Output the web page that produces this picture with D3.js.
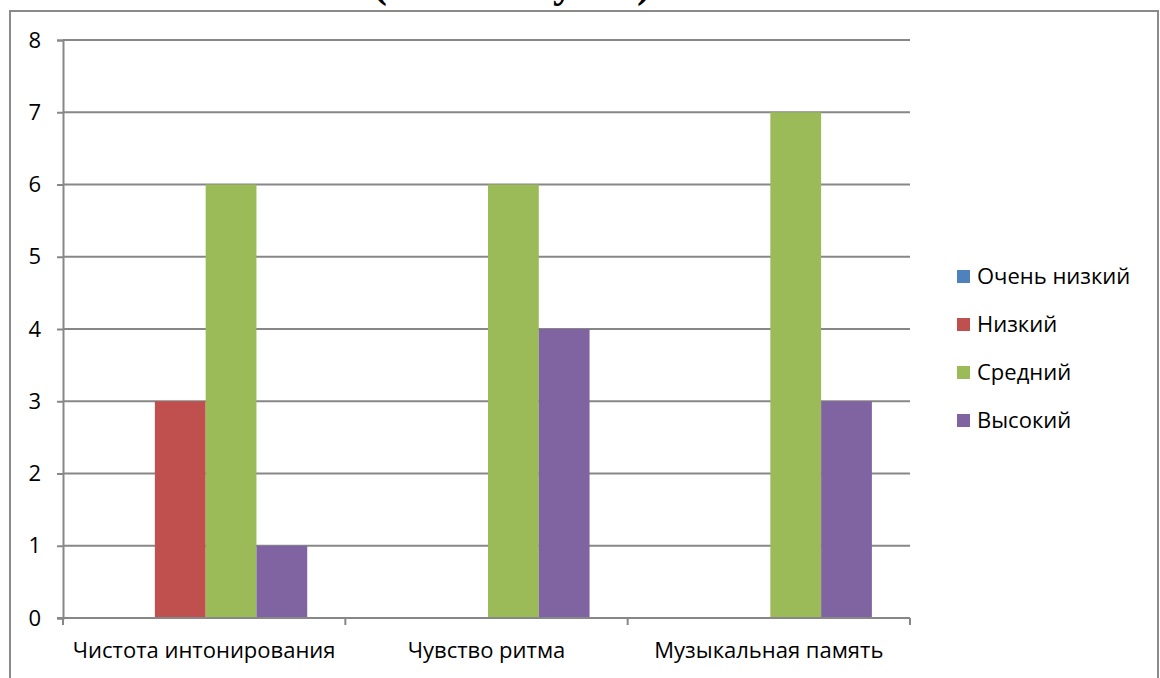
<!DOCTYPE html>
<html>
<head>
<meta charset="utf-8">
<script src="https://cdn.jsdelivr.net/npm/d3@7"></script>
<style>
  body { margin: 0; background: #fff; }
  svg { display: block; }
</style>
</head>
<body>
<svg id="chart" width="1160" height="678"></svg>
<script>
const categories = ['Чистота интонирования', 'Чувство ритма', 'Музыкальная память'];
const seriesNames = ['Очень низкий', 'Низкий', 'Средний', 'Высокий'];
const seriesColors = ['#4F81BD', '#C0504D', '#9BBB59', '#8064A2'];
const veryLow = [0, 0, 0];
const low = [3, 0, 0];
const medium = [6, 6, 7];
const high = [1, 4, 3];
const yTicks = [0, 1, 2, 3, 4, 5, 6, 7, 8];
const titleText = '(осенний учёт)';

const seriesValues = [veryLow, low, medium, high];

const svg = d3.select('#chart');
const font = '"Open Sans", "Noto Sans", sans-serif';
const fontSize = '22px';

// frame around the chart area (cut off at the top)
svg.append('path')
  .attr('d', 'M10,678 V11 H1158 V678')
  .attr('fill', 'none')
  .attr('stroke', '#8a8a8a')
  .attr('stroke-width', 2);

// title, mostly above the visible area like in the screenshot
svg.append('text')
  .attr('x', 512)
  .attr('y', -3)
  .attr('text-anchor', 'middle')
  .style('font-family', '"Liberation Serif", "DejaVu Serif", serif')
  .style('font-weight', 'bold')
  .style('font-size', '42px')
  .text(titleText);

const margin = { left: 63, top: 40, right: 910, bottom: 618 };

const x0 = d3.scaleBand()
  .domain(categories)
  .range([margin.left, margin.right])
  .paddingInner(0)
  .paddingOuter(0);

const x1 = d3.scaleBand()
  .domain(seriesNames)
  .range([0, x0.bandwidth()])
  .paddingInner(0)
  .paddingOuter(0.78);

const y = d3.scaleLinear().domain([0, 8]).range([margin.bottom, margin.top]);

// gridlines
svg.append('g')
  .selectAll('line')
  .data(yTicks.filter(d => d > 0))
  .join('line')
  .attr('x1', margin.left)
  .attr('x2', margin.right)
  .attr('y1', d => y(d))
  .attr('y2', d => y(d))
  .attr('stroke', '#878787')
  .attr('stroke-width', 2);

// bars
const groups = svg.append('g')
  .selectAll('g')
  .data(categories)
  .join('g')
  .attr('transform', d => `translate(${x0(d) + 1.5},0)`);

groups.selectAll('rect')
  .data((c, ci) => seriesNames.map((s, si) => ({ s, v: seriesValues[si][ci], color: seriesColors[si] })))
  .join('rect')
  .attr('x', d => x1(d.s))
  .attr('width', x1.bandwidth())
  .attr('y', d => y(d.v))
  .attr('height', d => y(0) - y(d.v))
  .attr('fill', d => d.color);

// y axis
const yAxis = d3.axisLeft(y).tickValues(yTicks).tickSize(6).tickPadding(16);
const gy = svg.append('g')
  .attr('transform', `translate(${margin.left},0)`)
  .call(yAxis);
gy.select('.domain').attr('stroke', '#878787').attr('stroke-width', 2);
gy.selectAll('.tick line').attr('stroke', '#878787').attr('stroke-width', 2);
gy.selectAll('.tick text')
  .style('font-family', font)
  .style('font-size', fontSize)
  .attr('fill', '#000');

// x axis
const gx = svg.append('g')
  .attr('transform', `translate(0,${margin.bottom})`);
gx.append('line')
  .attr('x1', margin.left - 6)
  .attr('x2', margin.right)
  .attr('stroke', '#878787')
  .attr('stroke-width', 2);
gx.selectAll('.cat-tick')
  .data([...categories.map(c => x0(c)), margin.right])
  .join('line')
  .attr('class', 'cat-tick')
  .attr('x1', d => d)
  .attr('x2', d => d)
  .attr('y1', 0)
  .attr('y2', 7)
  .attr('stroke', '#878787')
  .attr('stroke-width', 2);
gx.selectAll('.cat-label')
  .data(categories)
  .join('text')
  .attr('class', 'cat-label')
  .attr('x', d => x0(d) + x0.bandwidth() / 2)
  .attr('y', 40)
  .attr('text-anchor', 'middle')
  .style('font-family', font)
  .style('font-size', fontSize)
  .text(d => d);

// legend
const legend = svg.append('g').attr('transform', 'translate(957,276)');
const items = legend.selectAll('g')
  .data(seriesNames)
  .join('g')
  .attr('transform', (d, i) => `translate(0,${i * 48})`);
items.append('rect')
  .attr('x', 0)
  .attr('y', -6)
  .attr('width', 13)
  .attr('height', 13)
  .attr('fill', (d, i) => seriesColors[i]);
items.append('text')
  .attr('x', 20)
  .attr('y', 0)
  .attr('dy', '0.35em')
  .style('font-family', font)
  .style('font-size', fontSize)
  .text(d => d);
</script>
</body>
</html>
